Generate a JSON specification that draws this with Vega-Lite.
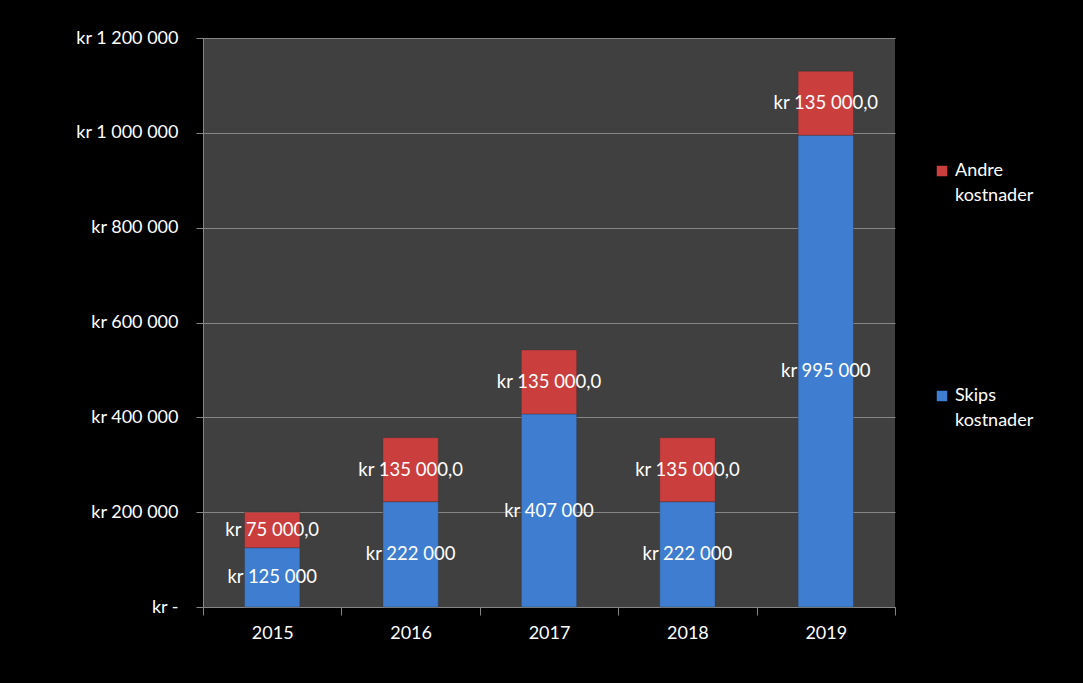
{
  "$schema": "https://vega.github.io/schema/vega-lite/v6.json",
  "autosize": {"type": "none"},
  "width": 692,
  "height": 569,
  "padding": {"left": 203, "top": 38, "right": 188, "bottom": 76},
  "background": "#000000",
  "config": {
    "locale": {"number": {"decimal": ",", "thousands": " ", "grouping": [3], "currency": ["kr ", ""]}},
    "view": {"fill": "#404040", "stroke": null},
    "font": "Lato",
    "style": {"guide-label": {"lineHeight": 25}},
    "axis": {"labelFont": "Lato", "labelColor": "#ffffff", "labelFontSize": 18, "domainColor": "#868686", "tickColor": "#868686", "gridColor": "#868686", "title": null}
  },
  "data": {
    "values": [
      {"year": "2015", "type": "Skips kostnader", "o": 0, "value": 125000},
      {"year": "2015", "type": "Andre kostnader", "o": 1, "value": 75000},
      {"year": "2016", "type": "Skips kostnader", "o": 0, "value": 222000},
      {"year": "2016", "type": "Andre kostnader", "o": 1, "value": 135000},
      {"year": "2017", "type": "Skips kostnader", "o": 0, "value": 407000},
      {"year": "2017", "type": "Andre kostnader", "o": 1, "value": 135000},
      {"year": "2018", "type": "Skips kostnader", "o": 0, "value": 222000},
      {"year": "2018", "type": "Andre kostnader", "o": 1, "value": 135000},
      {"year": "2019", "type": "Skips kostnader", "o": 0, "value": 995000},
      {"year": "2019", "type": "Andre kostnader", "o": 1, "value": 135000}
    ]
  },
  "transform": [
    {"stack": "value", "groupby": ["year"], "sort": [{"field": "o", "order": "ascending"}], "as": ["v0", "v1"]},
    {"calculate": "(datum.v0 + datum.v1) / 2", "as": "mid"},
    {"calculate": "datum.o == 1 ? 'kr ' + format(datum.value, ',.1f') : 'kr ' + format(datum.value, ',.0f')", "as": "label"}
  ],
  "encoding": {
    "x": {
      "field": "year", "type": "nominal",
      "scale": {"paddingInner": 0, "paddingOuter": 0},
      "axis": {"labelAngle": 0, "tickBand": "extent", "tickSize": 8, "labelPadding": 9, "domainColor": "#868686", "grid": false}
    }
  },
  "layer": [
    {
      "mark": {"type": "bar", "width": {"band": 0.4}, "stroke": "#2a2a2a", "strokeWidth": 0.5, "strokeOpacity": 0.6},
      "encoding": {
        "y": {
          "field": "v0", "type": "quantitative",
          "scale": {"domain": [0, 1200000]},
          "axis": {"values": [0, 200000, 400000, 600000, 800000, 1000000, 1200000], "tickSize": 7, "labelPadding": 18, "grid": true,
                   "labelExpr": "datum.value == 0 ? 'kr -' : 'kr ' + datum.label"}
        },
        "y2": {"field": "v1"},
        "color": {
          "field": "type", "type": "nominal",
          "scale": {"domain": ["Andre kostnader", "Skips kostnader"], "range": ["#CA3E3E", "#3E7DCF"]},
          "legend": {
            "title": null, "orient": "none", "legendX": 730, "legendY": 124,
            "symbolType": "square", "symbolSize": 110, "symbolStrokeWidth": 0,
            "labelFont": "Lato", "labelFontSize": 18, "labelColor": "#ffffff",
            "labelExpr": "split(datum.label, ' ')", "labelLimit": 200,
            "labelBaseline": "middle", "rowPadding": 182, "labelOffset": 4
          }
        }
      }
    },
    {
      "mark": {"type": "text", "color": "#ffffff", "fontSize": 18.5, "font": "Lato"},
      "encoding": {
        "y": {"field": "mid", "type": "quantitative"},
        "text": {"field": "label"}
      }
    }
  ]
}
